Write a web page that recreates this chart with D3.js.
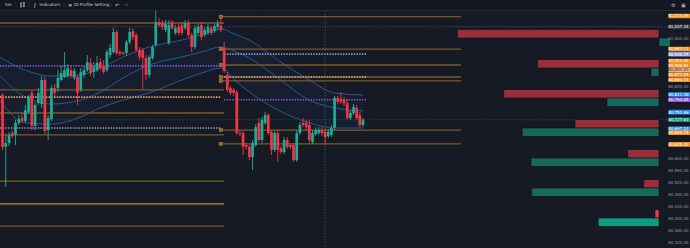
<!DOCTYPE html>
<html>
<head>
<meta charset="UTF-8">
<title>BTC 5m OI Profile</title>
<script src="https://cdn.jsdelivr.net/npm/d3@7"></script>
<style>
  body { margin: 0; background: #161a25; overflow: hidden; }
  svg { display: block; }
  text { font-family: "DejaVu Sans", sans-serif; }
</style>
</head>
<body>
<script>
var w = 690, h = 248;

// candles (5m)
var opens = [80810, 80637, 80650, 80683, 80677, 80717, 80733, 80723, 80753, 80817,
  80707, 80783, 80780, 80860, 80693, 80730, 80833, 80833, 80860, 80870,
  80873, 80893, 80867, 80870, 80827, 80877, 80893, 80917, 80887, 80893,
  80920, 80907, 80893, 80943, 80953, 81020, 80953, 80950, 80950, 80987,
  81023, 81010, 80960, 80960, 80933, 80877, 80933, 80977, 81053, 81050,
  81027, 80983, 81050, 81017, 81037, 81043, 81033, 81050, 81010, 80970,
  81017, 81043, 81010, 81017, 81033, 81023, 81037, 81040,
  80967, 80877, 80833, 80827, 80820, 80683, 80683, 80643, 80637, 80603,
  80643, 80717, 80660, 80717, 80743, 80687, 80627, 80683, 80633, 80620,
  80660, 80643, 80643, 80593, 80683, 80717, 80717, 80710, 80653, 80680,
  80683, 80693, 80687, 80673, 80677, 80700, 80800, 80797, 80793, 80783,
  80733, 80750, 80767, 80743, 80710];
var highs = [80817, 80677, 80687, 80693, 80727, 80743, 80750, 80777, 80810, 80827,
  80783, 80833, 80873, 80870, 80743, 80843, 80847, 80893, 80907, 80953,
  80913, 80907, 80900, 80877, 80900, 80907, 80943, 80933, 80920, 80940,
  80933, 80927, 80960, 80980, 81033, 81027, 80960, 80957, 80993, 81033,
  81033, 81017, 80970, 80967, 80943, 80943, 80977, 81093, 81067, 81060,
  81060, 81060, 81060, 81043, 81047, 81053, 81060, 81060, 81017, 81043,
  81047, 81053, 81037, 81047, 81043, 81047, 81060, 81070,
  80987, 80887, 80840, 80833, 80827, 80693, 80690, 80650, 80643, 80660,
  80713, 80733, 80737, 80753, 80750, 80693, 80693, 80693, 80640, 80670,
  80670, 80650, 80650, 80693, 80720, 80733, 80727, 80727, 80693, 80703,
  80703, 80703, 80697, 80697, 80710, 80807, 80807, 80820, 80803, 80793,
  80760, 80780, 80777, 80753, 80733];
var lows = [80627, 80503, 80640, 80667, 80643, 80710, 80717, 80717, 80747, 80693,
  80693, 80777, 80767, 80680, 80660, 80723, 80807, 80820, 80857, 80867,
  80867, 80867, 80860, 80777, 80820, 80867, 80887, 80873, 80867, 80887,
  80893, 80880, 80887, 80933, 80947, 80943, 80940, 80943, 80940, 80980,
  80993, 80953, 80927, 80827, 80860, 80867, 80927, 80970, 81037, 81027,
  81020, 80977, 81027, 81010, 81010, 81010, 81027, 81003, 80953, 80963,
  81010, 80993, 81003, 81010, 81010, 81017, 81027, 81020,
  80883, 80820, 80810, 80807, 80677, 80673, 80610, 80627, 80593, 80560,
  80637, 80653, 80650, 80710, 80677, 80610, 80620, 80587, 80613, 80613,
  80630, 80630, 80587, 80587, 80677, 80703, 80693, 80650, 80647, 80673,
  80677, 80673, 80643, 80667, 80670, 80693, 80780, 80780, 80773, 80727,
  80727, 80743, 80727, 80703, 80703];
var closes = [80637, 80650, 80677, 80673, 80717, 80730, 80723, 80760, 80803, 80707,
  80777, 80817, 80860, 80690, 80733, 80833, 80817, 80867, 80883, 80893,
  80900, 80873, 80890, 80817, 80887, 80893, 80920, 80883, 80903, 80917,
  80900, 80887, 80953, 80967, 81020, 80950, 80947, 80947, 80987, 81020,
  81003, 80960, 80937, 80933, 80877, 80937, 80970, 81053, 81043, 81037,
  81047, 81043, 81033, 81033, 81017, 81017, 81050, 81010, 80970, 81033,
  81037, 81003, 81027, 81037, 81017, 81040, 81047, 81027,
  80890, 80827, 80817, 80817, 80683, 80680, 80637, 80637, 80603, 80650,
  80703, 80660, 80727, 80743, 80683, 80627, 80683, 80627, 80620, 80660,
  80637, 80637, 80593, 80683, 80710, 80710, 80703, 80660, 80683, 80693,
  80693, 80683, 80670, 80687, 80700, 80800, 80787, 80787, 80783, 80733,
  80750, 80770, 80733, 80710, 80727.63];

// bollinger-style bands, knots at bar index
var bandIdx   = [-1, 7, 15, 24, 30, 37, 45, 55, 61, 67, 72, 76, 85, 95, 103, 112];
var bandUpper = [80937, 80893, 80873, 80877, 80900, 80937, 80970, 80993, 81010, 81030, 81010, 80993, 80927, 80860, 80817, 80810];
var bandMid   = [80877, 80803, 80780, 80793, 80820, 80867, 80910, 80937, 80953, 80970, 80953, 80933, 80867, 80793, 80767, 80757];
var bandLower = [80793, 80717, 80713, 80737, 80767, 80793, 80817, 80860, 80883, 80900, 80853, 80820, 80760, 80717, 80700, 80700];

// level lines
var oldLevels = [81050, 80827, 80750, 80677, 80523, 80447, 80373];
var newLevels = [81071.09, 80963, 80910, 80870, 80857, 80693, 80647];
var oldDotLevels = [80907, 80803, 80700];
var oldDotKinds = ["purple", "peach", "lavender"];
var newDotLevels = [80946.25, 80870, 80794.05];
var newDotKinds = ["lavender", "peach", "purple"];
var levelSwitchIdx = 67, levelEndIdx = 143, dotEndIdx = 113, sessionIdx = 100;
var markPrice = 81037.34, lastPrice = 80727.63;

// OI profile
var profileLevels = [81000, 80900, 80800, 80700, 80600, 80500, 80400];
var profileShort = [252, 152, 194, 105, 39, 19, 5];
var profileLong = [-14, 10, 65, 171, 160, 159, 76];

// price scale
var tickValues = [81000, 80840, 80600, 80560, 80520, 80480, 80440, 80400, 80360, 80320];
var labelValues = [81073.09, 81037.34, 80963.11, 80946.25, 80923.06, 80908.81, 80893.03, 80877.25, 80860.71,
  80811.48, 80794.05, 80752.86, 80727.63, 80697.24, 80684.75, 80645.42];
var labelKinds = ["orange", "mark", "orange", "lavender", "orange", "orange", "peach", "orange", "orange",
  "blue", "purple", "blue", "teal", "blue", "orange", "orange"];

var colors = {
  orange: "#f29425", mark: "#363a45", lavender: "#8ea2e0", peach: "#e9b58a",
  blue: "#2a8ef0", purple: "#9456e0", teal: "#10917a"
};
var dotColors = { purple: "#7a52d6", peach: "#dca06a", lavender: "#8592cc" };

var svg = d3.select("body").append("svg").attr("width", w).attr("height", h);
svg.append("rect").attr("width", w).attr("height", h).attr("fill", "#161a25");

var x = d3.scaleLinear().domain([0, 67, 112]).range([2.5, 221, 363]);
var y = d3.scaleLinear().domain([81000, 80320]).range([38, 242]);

var plot = svg.append("g");
var fmt = d3.format(",.2f");

// bands
var band = bandIdx.map(function (d, i) {
  return { i: d, u: bandUpper[i], m: bandMid[i], l: bandLower[i] };
});
plot.append("path").datum(band)
  .attr("d", d3.area().curve(d3.curveMonotoneX)
    .x(function (d) { return x(d.i); })
    .y0(function (d) { return y(d.l); })
    .y1(function (d) { return y(d.u); }))
  .attr("fill", "rgba(41,98,180,0.07)");
["u", "m", "l"].forEach(function (k) {
  plot.append("path").datum(band)
    .attr("d", d3.line().curve(d3.curveMonotoneX)
      .x(function (d) { return x(d.i); })
      .y(function (d) { return y(d[k]); }))
    .attr("fill", "none").attr("stroke", "#2c5d9c").attr("stroke-width", 0.9);
});

// level lines
oldLevels.forEach(function (p, i) {
  plot.append("line")
    .attr("x1", 0).attr("x2", x(levelSwitchIdx) + 3)
    .attr("y1", y(p)).attr("y2", y(p))
    .attr("stroke", i === 5 ? "#c48a3a" : "#7d5a2c").attr("stroke-width", 1.3);
});
newLevels.forEach(function (p) {
  plot.append("line")
    .attr("x1", x(levelSwitchIdx)).attr("x2", x(levelEndIdx))
    .attr("y1", y(p)).attr("y2", y(p))
    .attr("stroke", "#7d5a2c").attr("stroke-width", 1.3);
  plot.append("rect")
    .attr("x", x(levelSwitchIdx) - 1.8).attr("y", y(p) - 1.6)
    .attr("width", 3.2).attr("height", 3.2)
    .attr("fill", "#8c6426").attr("stroke", "#c08a3e").attr("stroke-width", 0.5);
});
oldDotLevels.forEach(function (p, i) {
  plot.append("line")
    .attr("x1", 0).attr("x2", x(levelSwitchIdx))
    .attr("y1", y(p)).attr("y2", y(p))
    .attr("stroke", dotColors[oldDotKinds[i]]).attr("stroke-width", 1.6)
    .attr("stroke-dasharray", "1.5,1.2");
});
newDotLevels.forEach(function (p, i) {
  plot.append("line")
    .attr("x1", x(levelSwitchIdx + 1)).attr("x2", x(dotEndIdx))
    .attr("y1", y(p)).attr("y2", y(p))
    .attr("stroke", dotColors[newDotKinds[i]]).attr("stroke-width", 1.6)
    .attr("stroke-dasharray", "1.5,1.2");
});

// mark price & last price lines
plot.append("line").attr("x1", 0).attr("x2", 668)
  .attr("y1", y(markPrice)).attr("y2", y(markPrice))
  .attr("stroke", "#5d6170").attr("stroke-width", 0.8).attr("stroke-dasharray", "1.2,1.6");
plot.append("line").attr("x1", 0).attr("x2", 668)
  .attr("y1", y(lastPrice)).attr("y2", y(lastPrice))
  .attr("stroke", "#0e5a4f").attr("stroke-width", 0.7).attr("stroke-dasharray", "2,1.5");

// session line
plot.append("line").attr("x1", x(sessionIdx)).attr("x2", x(sessionIdx))
  .attr("y1", 11).attr("y2", h)
  .attr("stroke", "#535763").attr("stroke-width", 0.8).attr("stroke-dasharray", "1.5,1.5");

// candles
var candles = opens.map(function (o, i) {
  return { i: i, o: o, h: highs[i], l: lows[i], c: closes[i] };
});
var up = "#22ab94", down = "#f23645";
var cg = plot.selectAll("g.candle").data(candles).enter().append("g");
cg.append("line")
  .attr("x1", function (d) { return x(d.i); })
  .attr("x2", function (d) { return x(d.i); })
  .attr("y1", function (d) { return y(d.h); })
  .attr("y2", function (d) { return y(d.l); })
  .attr("stroke", function (d) { return d.c >= d.o ? up : down; })
  .attr("stroke-width", 0.9);
cg.append("rect")
  .attr("x", function (d) { return x(d.i) - 1.35; })
  .attr("width", 2.7)
  .attr("y", function (d) { return y(Math.max(d.o, d.c)); })
  .attr("height", function (d) { return Math.max(0.8, Math.abs(y(d.o) - y(d.c))); })
  .attr("fill", function (d) { return d.c >= d.o ? up : down; });

// OI profile
var px = d3.scaleLinear().domain([0, 250]).range([659, 459]);
var half = 28;
var prof = plot.append("g");
profileLevels.forEach(function (p, i) {
  var last = i === profileLevels.length - 1;
  var s = profileShort[i], g = profileLong[i];
  prof.append("rect")
    .attr("x", Math.min(px(0), px(s))).attr("width", Math.abs(px(0) - px(s)))
    .attr("y", y(p + half)).attr("height", y(p) - y(p + half))
    .attr("fill", last ? "#f23645" : "#9a2e3b")
    .attr("stroke", "#0d1018").attr("stroke-width", 0.6);
  prof.append("rect")
    .attr("x", Math.min(px(0), px(g))).attr("width", Math.abs(px(0) - px(g)))
    .attr("y", y(p)).attr("height", y(p - half) - y(p))
    .attr("fill", last ? "#0e9c80" : "#17695a")
    .attr("stroke", "#0d1018").attr("stroke-width", 0.6);
});

// price axis
var axis = svg.append("g").attr("transform", "translate(688.5,0)")
  .call(d3.axisLeft(y).tickValues(tickValues).tickSize(0).tickPadding(0).tickFormat(fmt));
axis.select(".domain").remove();
axis.selectAll("text").attr("fill", "#9598a1").attr("font-size", 4)
  .attr("font-family", "DejaVu Sans, sans-serif");

var lab = svg.append("g");
labelValues.forEach(function (v, i) {
  var k = labelKinds[i], yy = y(v);
  lab.append("rect").attr("x", 668.5).attr("y", yy - 2.3)
    .attr("width", 22).attr("height", 4.6).attr("rx", 0.6)
    .attr("fill", colors[k]);
  lab.append("text").attr("x", 688.5).attr("y", yy + 1.4)
    .attr("text-anchor", "end").attr("font-size", 4)
    .attr("fill", k === "peach" ? "#3a2a1a" : "#ffffff")
    .text(fmt(v));
});

// toolbar
var tb = svg.append("g");
tb.append("rect").attr("width", w).attr("height", 10).attr("fill", "#131722");
tb.append("line").attr("x1", 0).attr("x2", w).attr("y1", 10.5).attr("y2", 10.5)
  .attr("stroke", "#2a2e39").attr("stroke-width", 0.8);
var tbText = [
  { x: 5, t: "5m" }, { x: 39.5, t: "Indicators" }, { x: 74, t: "OI Profile Setting" }
];
tb.selectAll("text.t").data(tbText).enter().append("text")
  .attr("x", function (d) { return d.x; }).attr("y", 6.3)
  .attr("font-size", 4.2).attr("fill", "#d1d4dc")
  .text(function (d) { return d.t; });
[16, 29, 64, 111].forEach(function (sx) {
  tb.append("line").attr("x1", sx).attr("x2", sx).attr("y1", 2.5).attr("y2", 7.5)
    .attr("stroke", "#363a45").attr("stroke-width", 0.6);
});
// candle icon
tb.append("rect").attr("x", 20.5).attr("y", 3).attr("width", 1.3).attr("height", 4)
  .attr("fill", "none").attr("stroke", "#d1d4dc").attr("stroke-width", 0.5);
tb.append("rect").attr("x", 23.2).attr("y", 2.4).attr("width", 1.3).attr("height", 4.4)
  .attr("fill", "none").attr("stroke", "#d1d4dc").attr("stroke-width", 0.5);
var icons = [
  { x: 34, t: "\u0192", c: "#d1d4dc" }, { x: 68, t: "\u2261", c: "#d1d4dc" },
  { x: 115, t: "\u21b6", c: "#d1d4dc" }, { x: 124, t: "\u21b7", c: "#5d606b" },
  { x: 671, t: "\u2699", c: "#b2b5be" }, { x: 681, t: "\u25a3", c: "#b2b5be" }
];
tb.selectAll("text.i").data(icons).enter().append("text")
  .attr("x", function (d) { return d.x; }).attr("y", 6.6)
  .attr("font-size", 5).attr("fill", function (d) { return d.c; })
  .text(function (d) { return d.t; });
</script>
</body>
</html>
